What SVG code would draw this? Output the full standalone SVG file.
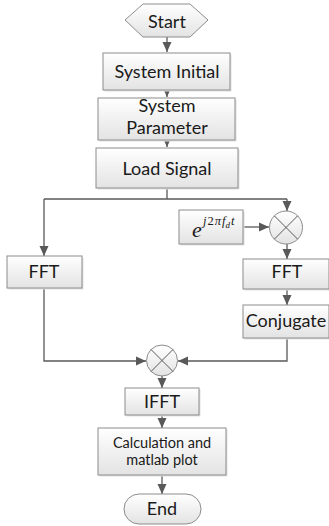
<svg xmlns="http://www.w3.org/2000/svg" width="329" height="526" viewBox="0 0 329 526">
<style>
.box{fill:url(#g);stroke:#8c8c8c;stroke-width:1}
.sh{fill:#e2e2e2}
.t{font-family:Lato,"Liberation Sans",sans-serif;font-size:18px;fill:#1a1a1a;text-anchor:middle}
.ts{font-size:14.5px}
.c{fill:none;stroke:#595959;stroke-width:1.3}
.x{stroke:#595959;stroke-width:1}
.m{font-family:"Liberation Serif",serif;font-style:italic;fill:#1a1a1a}
</style>
<defs>
<linearGradient id="g" x1="0" y1="0" x2="0" y2="1">
<stop offset="0" stop-color="#ffffff"/>
<stop offset="1" stop-color="#e3e3e3"/>
</linearGradient>
<marker id="a" markerUnits="userSpaceOnUse" markerWidth="10" markerHeight="10" viewBox="0 0 10 10" refX="10" refY="5" orient="auto">
<path d="M0,0.5 L10,5 L0,9.5 z" fill="#595959"/>
</marker>
</defs>
<g id="connectors" class="c">
<path d="M167,37 V52" marker-end="url(#a)"/>
<path d="M167,90 V97" marker-end="url(#a)"/>
<path d="M167,140 V147" marker-end="url(#a)"/>
<path d="M167,187 V199 M44,199 H287"/>
<path d="M44,199 V256" marker-end="url(#a)"/>
<path d="M287,199 V211" marker-end="url(#a)"/>
<path d="M244,227 H269" marker-end="url(#a)"/>
<path d="M287,244 V259" marker-end="url(#a)"/>
<path d="M287,289 V305" marker-end="url(#a)"/>
<path d="M287,338 V361 H178" marker-end="url(#a)"/>
<path d="M44,288 V361 H146" marker-end="url(#a)"/>
<path d="M162,376 V388" marker-end="url(#a)"/>
<path d="M162,415 V428" marker-end="url(#a)"/>
<path d="M162,475 V494" marker-end="url(#a)"/>
</g>
<g id="start">
<path d="M125,20 L143,4 L190,4 L208,20 L190,37 L143,37 Z" class="box"/>
<text class="t" x="167" y="28">Start</text>
</g>
<g id="sysinit">
<rect x="104.5" y="54.5" width="127" height="37" class="sh"/>
<rect x="103" y="53" width="127" height="37" class="box"/>
<text class="t" x="167" y="78">System Initial</text>
</g>
<g id="syspar">
<rect x="99.5" y="99.5" width="137" height="42" class="sh"/>
<rect x="98" y="98" width="137" height="42" class="box"/>
<text class="t" x="167" y="112">System</text>
<text class="t" x="167" y="134">Parameter</text>
</g>
<g id="load">
<rect x="97.5" y="149.5" width="142" height="40" class="sh"/>
<rect x="96" y="148" width="142" height="40" class="box"/>
<text class="t" x="167" y="175">Load Signal</text>
</g>
<g id="fft1">
<rect x="8.5" y="257.5" width="75" height="32" class="sh"/>
<rect x="7" y="256" width="75" height="32" class="box"/>
<text class="t" x="44" y="278">FFT</text>
</g>
<g id="exp">
<rect x="180.5" y="211.5" width="64" height="34" class="sh"/>
<rect x="179" y="210" width="64" height="34" class="box"/>
<text class="m" x="192" y="237" font-size="22">e</text>
<text class="m" x="203" y="225" font-size="12.5">j<tspan font-style="normal" dx="1">2</tspan><tspan dx="1">π</tspan><tspan dx="1">f</tspan><tspan font-size="9" dy="3">d</tspan><tspan dy="-3" dx="1">t</tspan></text>
</g>
<g id="mul1">
<circle cx="286" cy="227.5" r="16.5" fill="url(#g)" stroke="#8c8c8c"/>
<path d="M274.3,215.8 L297.7,239.2 M297.7,215.8 L274.3,239.2" class="x"/>
</g>
<g id="fft2">
<rect x="244.5" y="260.5" width="86" height="30" class="sh"/>
<rect x="243" y="259" width="86" height="30" class="box"/>
<text class="t" x="287" y="278">FFT</text>
</g>
<g id="conj">
<rect x="244.5" y="306.5" width="86" height="33" class="sh"/>
<rect x="243" y="305" width="86" height="33" class="box"/>
<text class="t" x="286" y="327">Conjugate</text>
</g>
<g id="mul2">
<circle cx="162" cy="360.5" r="15.5" fill="url(#g)" stroke="#8c8c8c"/>
<path d="M151,349.5 L173,371.5 M173,349.5 L151,371.5" class="x"/>
</g>
<g id="ifft">
<rect x="126.5" y="389.5" width="74" height="27" class="sh"/>
<rect x="125" y="388" width="74" height="27" class="box"/>
<text class="t" x="162" y="408">IFFT</text>
</g>
<g id="calc">
<rect x="99.5" y="429.5" width="128" height="47" class="sh"/>
<rect x="98" y="428" width="128" height="47" class="box"/>
<text class="t ts" x="162" y="448">Calculation and</text>
<text class="t ts" x="162" y="465">matlab plot</text>
</g>
<g id="end">
<rect x="124" y="494" width="77" height="30" rx="15" class="box"/>
<text class="t" x="162" y="515">End</text>
</g>
</svg>
